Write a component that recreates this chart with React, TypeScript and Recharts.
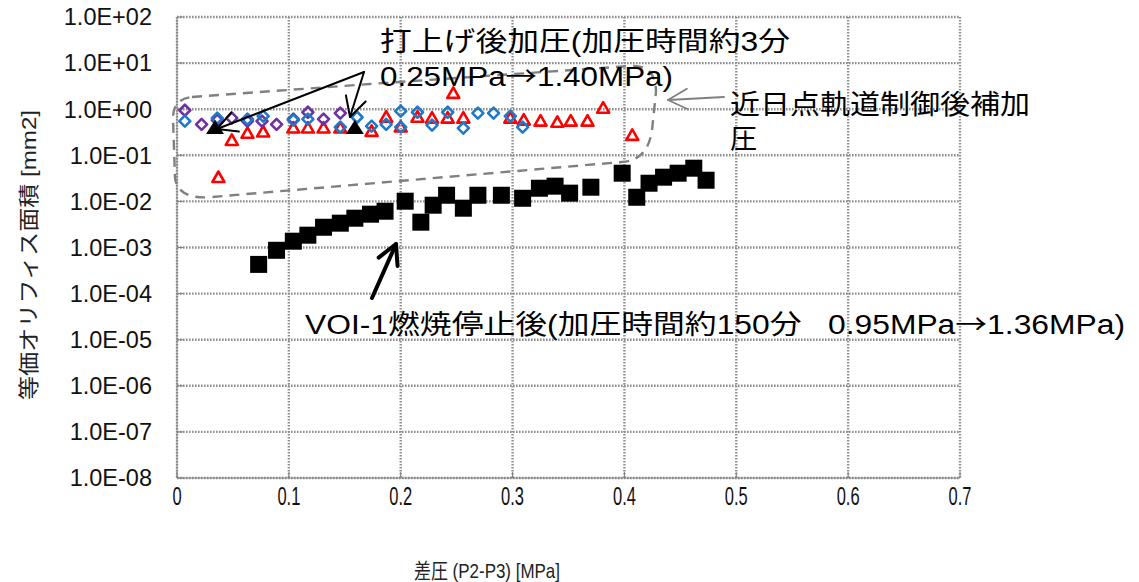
import React from 'react';
import { ScatterChart, Scatter, XAxis, YAxis, CartesianGrid } from 'recharts';

// ---- axis ticks ----
const xTicks = [0, 0.1, 0.2, 0.3, 0.4, 0.5, 0.6, 0.7];
const yTicks = [1e-8, 1e-7, 1e-6, 1e-5, 1e-4, 1e-3, 1e-2, 1e-1, 1e0, 1e1, 1e2];

// ---- series: purple diamonds ----
const purpleX = [0.007, 0.022, 0.036, 0.049, 0.063, 0.076, 0.089, 0.104, 0.117, 0.131, 0.146];
const purpleY = [0.95, 0.47, 0.58, 0.64, 0.55, 0.55, 0.47, 0.61, 0.86, 0.61, 0.82];

// ---- series: blue diamonds ----
const blueX = [0.007, 0.036, 0.063, 0.077, 0.104, 0.117, 0.146, 0.161, 0.174, 0.187, 0.2, 0.2, 0.215, 0.228, 0.242, 0.256, 0.269, 0.283, 0.298, 0.309];
const blueY = [0.55, 0.64, 0.61, 0.705, 0.58, 0.61, 0.41, 0.67, 0.43, 0.47, 0.905, 0.41, 0.86, 0.45, 0.86, 0.39, 0.82, 0.82, 0.705, 0.41];

// ---- series: red triangles ----
const redX = [0.037, 0.049, 0.063, 0.077, 0.104, 0.117, 0.131, 0.146, 0.174, 0.187, 0.2, 0.215, 0.228, 0.242, 0.247, 0.256, 0.298, 0.31, 0.325, 0.34, 0.352, 0.367, 0.381, 0.407];
const redY = [0.033, 0.21, 0.3, 0.32, 0.39, 0.39, 0.39, 0.39, 0.33, 0.67, 0.41, 0.67, 0.64, 0.64, 2.2, 0.64, 0.64, 0.58, 0.55, 0.52, 0.55, 0.55, 1.05, 0.27];

// ---- series: black triangles ----
const blackTriX = [0.034, 0.159];
const blackTriY = [0.39, 0.39];

// ---- series: black squares (VOI-1) ----
const squareX = [0.073, 0.089, 0.104, 0.117, 0.131, 0.146, 0.159, 0.173, 0.186, 0.204, 0.218, 0.229, 0.241, 0.256, 0.269, 0.29, 0.309, 0.324, 0.338, 0.351, 0.37, 0.398, 0.411, 0.422, 0.435, 0.448, 0.462, 0.473];
const squareY = [4.3e-4, 8.7e-4, 1.37e-3, 1.85e-3, 2.75e-3, 3.37e-3, 4.32e-3, 5.28e-3, 6.12e-3, 1.01e-2, 3.54e-3, 8.27e-3, 1.36e-2, 7.12e-3, 1.36e-2, 1.36e-2, 1.17e-2, 1.93e-2, 2.14e-2, 1.51e-2, 2.03e-2, 4.09e-2, 1.23e-2, 2.48e-2, 3.35e-2, 4.09e-2, 5.25e-2, 2.88e-2];

const zip = (xs: number[], ys: number[]) => xs.map((x, i) => ({ x, y: ys[i] }));

const purpleData = zip(purpleX, purpleY);
const blueData = zip(blueX, blueY);
const redData = zip(redX, redY);
const blackTriData = zip(blackTriX, blackTriY);
const squareData = zip(squareX, squareY);

const FONT = '"Liberation Sans", Arial, "Noto Sans CJK JP", sans-serif';
const CJK = '"Noto Sans CJK JP", sans-serif';

const diamond = (color: string) => (props: any) => {
  const { cx, cy } = props;
  const r = 5.5;
  return (
    <polygon
      points={`${cx},${cy - r} ${cx + r},${cy} ${cx},${cy + r} ${cx - r},${cy}`}
      fill="none"
      stroke={color}
      strokeWidth={2.6}
      strokeLinejoin="round"
    />
  );
};

const RedTri = (props: any) => {
  const { cx, cy } = props;
  return (
    <polygon
      points={`${cx},${cy - 6} ${cx + 6},${cy + 4.5} ${cx - 6},${cy + 4.5}`}
      fill="none"
      stroke="#ff0000"
      strokeWidth={2.6}
      strokeLinejoin="round"
    />
  );
};

const BlackTri = (props: any) => {
  const { cx, cy } = props;
  return <polygon points={`${cx},${cy - 8} ${cx + 9},${cy + 6} ${cx - 9},${cy + 6}`} fill="#000" />;
};

const Square = (props: any) => {
  const { cx, cy } = props;
  return <rect x={cx - 8.5} y={cy - 8.5} width={17} height={17} fill="#000" />;
};

const fmtY = (v: number) => {
  const e = Math.round(Math.log10(v));
  const sign = e < 0 ? '-' : '+';
  return `1.0E${sign}${String(Math.abs(e)).padStart(2, '0')}`;
};

const XTick = (props: any) => {
  const { x, y, payload } = props;
  const v = payload.value;
  const label = v === 0 ? '0' : v.toFixed(1);
  return (
    <g transform={`translate(${x},${y})`}>
      <text transform="scale(0.66,1)" textAnchor="middle" dy="0.71em" fontSize={25} fontFamily={FONT} fill="#111">
        {label}
      </text>
    </g>
  );
};

const Arrow = ({ x1, y1, x2, y2, color, width, head }: any) => {
  const a = Math.atan2(y2 - y1, x2 - x1);
  const sp = (28 * Math.PI) / 180;
  const hx1 = x2 - head * Math.cos(a - sp);
  const hy1 = y2 - head * Math.sin(a - sp);
  const hx2 = x2 - head * Math.cos(a + sp);
  const hy2 = y2 - head * Math.sin(a + sp);
  return (
    <g stroke={color} strokeWidth={width} fill="none" strokeLinecap="round" strokeLinejoin="round">
      <line x1={x1} y1={y1} x2={x2} y2={y2} />
      <polyline points={`${hx1},${hy1} ${x2},${y2} ${hx2},${hy2}`} />
    </g>
  );
};

export default function App() {
  return (
    <div style={{ position: 'absolute', left: 0, top: 0, width: 1139, height: 582, background: '#fff' }}>
      <ScatterChart width={1139} height={582} margin={{ top: 17, right: 179, bottom: 64, left: 0 }}>
        <CartesianGrid stroke="#8f8f8f" strokeWidth={2.4} strokeDasharray="1.6 1.4" horizontal vertical />
        <XAxis
          type="number"
          dataKey="x"
          domain={[0, 0.7]}
          ticks={xTicks}
          allowDataOverflow
          height={40}
          stroke="#808080"
          tickSize={-6}
          tickMargin={15}
          tick={<XTick />}
          interval={0}
        />
        <YAxis
          type="number"
          dataKey="y"
          scale="log"
          domain={[1e-8, 100]}
          ticks={yTicks}
          allowDataOverflow
          width={177}
          stroke="#808080"
          tickSize={-6}
          tickMargin={31}
          tickFormatter={fmtY}
          tick={{ fontSize: 23.5, fontFamily: FONT, fill: '#111' }}
          interval={0}
        />
        <Scatter data={redData} shape={RedTri} isAnimationActive={false} />
        <Scatter data={purpleData} shape={diamond('#7030a0')} isAnimationActive={false} />
        <Scatter data={blueData} shape={diamond('#1f78c8')} isAnimationActive={false} />
        <Scatter data={blackTriData} shape={BlackTri} isAnimationActive={false} />
        <Scatter data={squareData} shape={Square} isAnimationActive={false} />
      </ScatterChart>
      <svg
        width={1139}
        height={582}
        style={{ position: 'absolute', left: 0, top: 0, pointerEvents: 'none' }}
        fontFamily={FONT}
      >
        {/* dashed enclosure */}
        <path
          d="M 192 97 L 370 84 L 630 66 Q 656 64 656 92 L 652 130 Q 648 160 622 162 L 212 197 Q 178 200 175 178 L 173 118 Q 173 99 192 97 Z"
          fill="none"
          stroke="#808080"
          strokeWidth={2.4}
          strokeDasharray="10 7"
        />
        {/* arrows */}
        <Arrow x1={364} y1={72} x2={217} y2={129} color="#000" width={2} head={22} />
        <Arrow x1={364} y1={72} x2={350} y2={117} color="#000" width={2} head={22} />
        <Arrow x1={372} y1={298} x2={396} y2={244} color="#000" width={4} head={22} />
        <Arrow x1={724} y1={97} x2={668} y2={100} color="#808080" width={1.8} head={22} />
        {/* annotation texts */}
        <text x={380} y={51} fontSize={27} fill="#000" textLength={410} lengthAdjust="spacingAndGlyphs">
          打上げ後加圧(加圧時間約3分
        </text>
        <text x={380} y={86} fontSize={27} fill="#000" textLength={293} lengthAdjust="spacingAndGlyphs">
          0.25MPa<tspan fontFamily={CJK}>→</tspan>1.40MPa)
        </text>
        <text x={730} y={114} fontSize={27} fill="#000" textLength={300} lengthAdjust="spacingAndGlyphs">
          近日点軌道制御後補加
        </text>
        <text x={730} y={149} fontSize={27} fill="#000">
          圧
        </text>
        <text x={305} y={334} fontSize={27} fill="#000" textLength={820} lengthAdjust="spacingAndGlyphs" style={{ whiteSpace: 'pre' }}>
          {'VOI-1燃焼停止後(加圧時間約150分   0.95MPa'}<tspan fontFamily={CJK}>→</tspan>1.36MPa)
        </text>
        {/* axis titles */}
        <text
          x={28}
          y={255}
          fontSize={21}
          fill="#222"
          textAnchor="middle"
          dominantBaseline="central"
          transform="rotate(-90 28 255)"
          textLength={290}
          lengthAdjust="spacingAndGlyphs"
        >
          等価オリフィス面積 [mm2]
        </text>
        <text x={487} y={578} fontSize={21} fill="#222" textAnchor="middle" textLength={146} lengthAdjust="spacingAndGlyphs">
          差圧 (P2-P3) [MPa]
        </text>
      </svg>
    </div>
  );
}
